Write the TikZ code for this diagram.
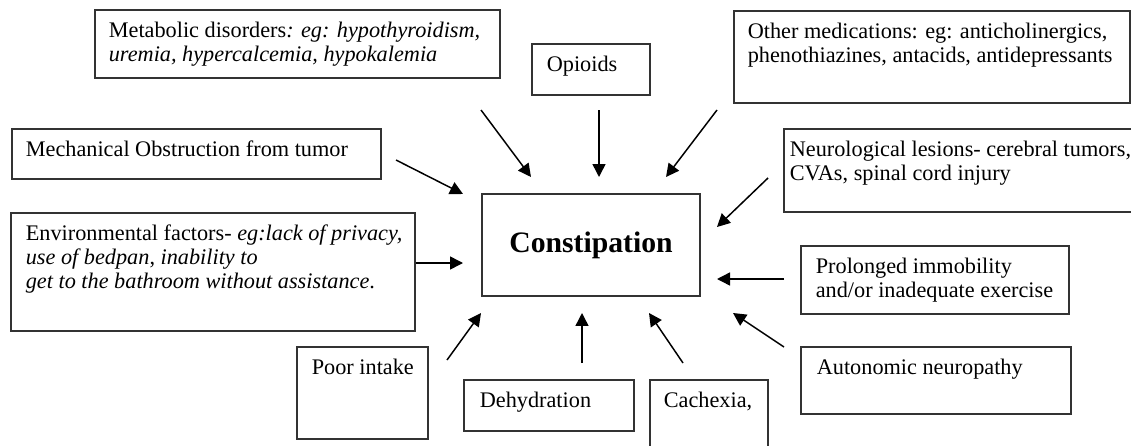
\documentclass[tikz,border=0pt]{standalone}
\usepackage{fontspec}
\setmainfont{Liberation Serif}
\usetikzlibrary{arrows.meta}

\newlength\pxu \setlength\pxu{0.539pt}
% text of a box: width, height, left pad, text
\newcommand\cell[4]{\parbox[c][#2\pxu][t]{#1\pxu}{\raggedright\leftskip=#3\pxu\relax\rule{0pt}{15pt}#4}}

\begin{document}
\begin{tikzpicture}[x=0.539pt,y=-0.539pt,>={Triangle[length=7pt,width=7pt]},
    factor/.style={draw=black!80,line width=0.9pt,anchor=north west,inner sep=0pt,
      font=\fontsize{12}{13}\selectfont},
    cause/.style={->,line width=0.8pt}]
  \useasboundingbox (0,0) rectangle (1131,445);

  \node[draw=black!80,line width=0.9pt,minimum width=117.5pt,minimum height=55pt,inner sep=0pt,
    font=\fontsize{16}{18}\selectfont\bfseries] (con) at (591,245) {Constipation};

  \node[factor] (meta)  at (94,9)    {\cell{405}{68}{14}{Metabolic disorders\textit{: eg: hypothyroidism,}\\
      \textit{uremia, hypercalcemia, hypokalemia}}};
  \node[factor] (opi)   at (531,43)  {\cell{118}{51}{15}{Opioids}};
  \node[factor] (meds)  at (733,10)  {\cell{396}{92}{14}{Other medications: eg: anticholinergics,\\
      phenothiazines, antacids, antidepressants}};
  \node[factor] (mech)  at (11,128)  {\cell{369}{50}{14}{Mechanical Obstruction from tumor}};
  \node[factor] (neuro) at (783,128) {\cell{360}{83}{6}{Neurological lesions- cerebral tumors,\\
      CVAs, spinal cord injury}};
  \node[factor] (env)   at (10,212)  {\cell{404}{118}{15}{Environmental factors- \textit{eg:lack of privacy,}\\
      \textit{use of bedpan}, \textit{inability to}\\
      \textit{get to the bathroom without assistance}.}};
  \node[factor] (immob) at (800,245) {\cell{268}{68}{15}{Prolonged immobility\\
      and/or inadequate exercise}};
  \node[factor] (auto)  at (800,346) {\cell{270}{67}{16}{Autonomic neuropathy}};
  \node[factor] (poor)  at (296,346) {\cell{131}{92}{15}{Poor intake}};
  \node[factor] (dehyd) at (463,379) {\cell{170}{51}{16}{Dehydration}};
  \node[factor] (cach)  at (649,379) {\cell{118}{80}{14}{Cachexia,}};

  % arrow ends
  \coordinate (metaT)  at (481,110); \coordinate (metaH)  at (531,177);
  \coordinate (opiT)   at (599,110); \coordinate (opiH)   at (599,177);
  \coordinate (medsT)  at (717,110); \coordinate (medsH)  at (666,177);
  \coordinate (mechT)  at (396,160); \coordinate (mechH)  at (463,194);
  \coordinate (neuroT) at (768,178); \coordinate (neuroH) at (717,227);
  \coordinate (envH)   at (463,263);
  \coordinate (immobT) at (784,279); \coordinate (immobH) at (717,279);
  \coordinate (autoT)  at (784,347); \coordinate (autoH)  at (733,313);
  \coordinate (poorT)  at (447,360); \coordinate (poorH)  at (481,313);
  \coordinate (dehydT) at (582,363); \coordinate (dehydH) at (582,313);
  \coordinate (cachT)  at (683,363); \coordinate (cachH)  at (649,313);

  \draw[cause] (metaT) -- (metaH);
  \draw[cause] (opiT) -- (opiH);
  \draw[cause] (medsT) -- (medsH);
  \draw[cause] (mechT) -- (mechH);
  \draw[cause] (neuroT) -- (neuroH);
  \draw[cause] (env.east |- envH) -- (envH);
  \draw[cause] (immobT) -- (immobH);
  \draw[cause] (autoT) -- (autoH);
  \draw[cause] (poorT) -- (poorH);
  \draw[cause] (dehydT) -- (dehydH);
  \draw[cause] (cachT) -- (cachH);
\end{tikzpicture}
\end{document}
